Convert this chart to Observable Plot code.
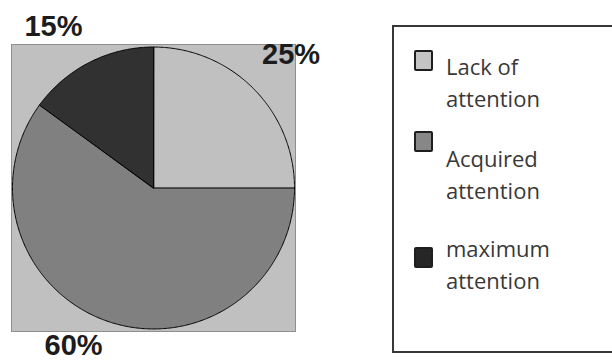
<!DOCTYPE html>
<html>
<head>
<meta charset="utf-8">
<script src="https://cdn.jsdelivr.net/npm/d3@7"></script>
<script src="https://cdn.jsdelivr.net/npm/@observablehq/plot@0.6"></script>
<style>
  html, body { margin: 0; padding: 0; background: #fff; }
  #wrap { position: relative; width: 612px; height: 361px; overflow: hidden; }
  #chart svg { display: block; }
  .legend {
    position: absolute; left: 392px; top: 25px; width: 240px; height: 324px;
    border: 2px solid #383838; background: #fff; box-sizing: content-box;
    font-family: "Open Sans", sans-serif; font-size: 22px; line-height: 32px; color: #383838;
  }
  .entry { position: absolute; left: 52px; }
  .sw {
    position: absolute; left: -32px; width: 15px; height: 17px;
    border: 2px solid #1e1e1e; border-radius: 2px;
  }
</style>
</head>
<body>
<div id="wrap">
  <div id="chart"></div>
  <div class="legend" id="legend"></div>
</div>
<script>
// Share of attention per category
const categories = ["Lack of attention", "Acquired attention", "maximum attention"];
const values = [25, 60, 15];
const labels = ["25%", "60%", "15%"];
// Legend text, broken over two lines as drawn
const legendLines = [["Lack of", "attention"], ["Acquired", "attention"], ["maximum", "attention"]];

// Styling
const colors = ["#c0c0c0", "#808080", "#313131"];
const legendSwatch = ["#c4c4c4", "#878787", "#262626"];
const labelRadius = 1.3;
const labelNudge = [[0.056, -0.04], [-0.165, 0.05], [-0.119, -0.08]];

// Slice angles, clockwise from 12 o'clock
const arcs = d3.pie().sort(null).value(d => d)(values);

// Outline of each slice: centre, arc, back to centre
const slicePts = [];
arcs.forEach((a, i) => {
  slicePts.push({cat: categories[i], x: 0, y: 0});
  const n = Math.max(2, Math.ceil((a.endAngle - a.startAngle) / (Math.PI / 360)));
  for (let k = 0; k <= n; ++k) {
    const t = a.startAngle + (a.endAngle - a.startAngle) * k / n;
    slicePts.push({cat: categories[i], x: Math.sin(t), y: Math.cos(t)});
  }
});

// Percentage labels outside each slice
const labelPts = arcs.map((a, i) => {
  const m = (a.startAngle + a.endAngle) / 2;
  return {
    text: labels[i],
    x: labelRadius * Math.sin(m) + labelNudge[i][0],
    y: labelRadius * Math.cos(m) + labelNudge[i][1]
  };
});

const chart = Plot.plot({
  width: 612,
  height: 361,
  marginLeft: 11,
  marginRight: 317,
  marginTop: 44,
  marginBottom: 30,
  x: {domain: [-1.007, 1.007], axis: null},
  y: {domain: [-1.018, 1.018], axis: null},
  color: {domain: categories, range: colors},
  style: {background: "transparent", overflow: "visible"},
  marks: [
    Plot.frame({fill: "#c0c0c0", stroke: "#8f8f8f", strokeWidth: 1}),
    Plot.line(slicePts, {
      x: "x", y: "y", z: "cat", fill: "cat",
      stroke: "#000", strokeWidth: 1, curve: "linear-closed"
    }),
    Plot.text(labelPts, {
      x: "x", y: "y", text: "text",
      textAnchor: "middle", lineAnchor: "bottom",
      fontFamily: "Liberation Sans, Arial, sans-serif",
      fontWeight: "bold", fontSize: 29, fill: "#1c1c1c"
    })
  ]
});
document.getElementById("chart").appendChild(chart);

// Legend entries
const legendTops = [23, 115, 205];
const swatchTops = [18, 7, 33];
const legend = document.getElementById("legend");
categories.forEach((c, i) => {
  const e = document.createElement("div");
  e.className = "entry";
  e.style.top = legendTops[i] + "px";
  const sw = document.createElement("div");
  sw.className = "sw";
  sw.style.top = (swatchTops[i] - 18) + "px";
  sw.style.background = legendSwatch[i];
  e.appendChild(sw);
  legendLines[i].forEach(line => {
    const l = document.createElement("div");
    l.textContent = line;
    e.appendChild(l);
  });
  legend.appendChild(e);
});
</script>
</body>
</html>
